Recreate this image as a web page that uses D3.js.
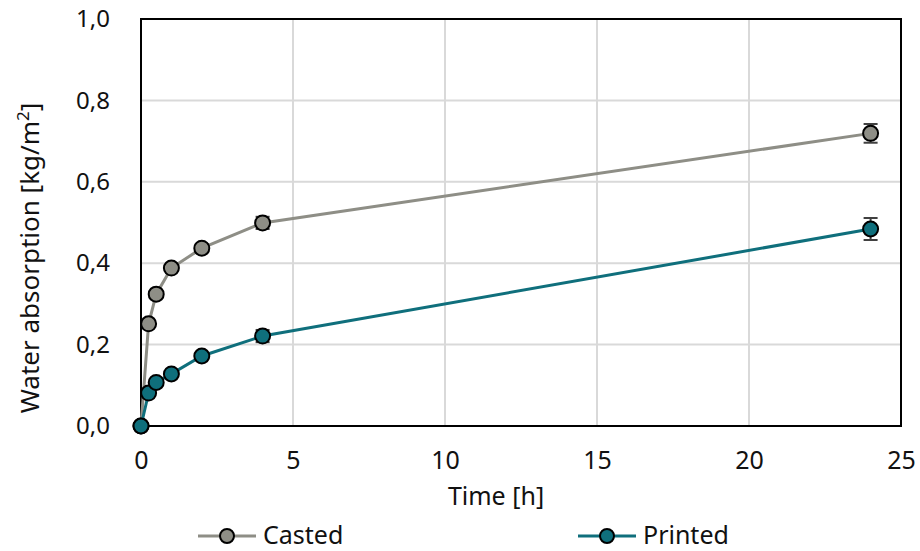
<!DOCTYPE html>
<html>
<head>
<meta charset="utf-8">
<script src="https://cdn.jsdelivr.net/npm/d3@7"></script>
<style>
  body { margin: 0; background: #fff; }
  text { font-family: "Noto Sans", "Open Sans", sans-serif; fill: #111; }
</style>
</head>
<body>
<svg id="chart" width="920" height="551"></svg>
<script>
const times = [0, 0.25, 0.5, 1, 2, 4, 24];
const casted = [0, 0.251, 0.324, 0.388, 0.437, 0.499, 0.719];
const castedErr = [0, 0.005, 0.006, 0.007, 0.01, 0.015, 0.023];
const printed = [0, 0.081, 0.107, 0.128, 0.172, 0.221, 0.484];
const printedErr = [0, 0.004, 0.005, 0.006, 0.008, 0.015, 0.027];
const xTicks = [0, 5, 10, 15, 20, 25];
const yTicks = [0, 0.2, 0.4, 0.6, 0.8, 1.0];
const seriesNames = ["Casted", "Printed"];
const colors = ["#8e8e86", "#0f6f7c"];

const svg = d3.select("#chart");
const x = d3.scaleLinear().domain([0, 25]).range([141, 901]);
const y = d3.scaleLinear().domain([0, 1]).range([426, 19]);
const fmt = v => d3.format(".1f")(v).replace(".", ",");

// gridlines
svg.append("g").selectAll("line.vg").data(xTicks.filter(d => d > 0 && d < 25)).join("line")
  .attr("x1", d => x(d)).attr("x2", d => x(d)).attr("y1", y(0)).attr("y2", y(1))
  .attr("stroke", "#d9d9d9").attr("stroke-width", 2);
svg.append("g").selectAll("line.hg").data(yTicks.filter(d => d > 0 && d < 1)).join("line")
  .attr("x1", x(0)).attr("x2", x(25)).attr("y1", d => y(d)).attr("y2", d => y(d))
  .attr("stroke", "#d9d9d9").attr("stroke-width", 2);

// frame
svg.append("rect").attr("x", x(0)).attr("y", y(1)).attr("width", x(25) - x(0)).attr("height", y(0) - y(1))
  .attr("fill", "none").attr("stroke", "#000").attr("stroke-width", 2);

// axes
const xAxis = svg.append("g").attr("transform", `translate(0,${y(0)})`)
  .call(d3.axisBottom(x).tickValues(xTicks).tickSize(0).tickPadding(25).tickFormat(d3.format("d")));
xAxis.select(".domain").remove();
xAxis.selectAll("text").attr("font-size", 25).attr("fill", "#111").style("font-family", "Noto Sans");

const yAxis = svg.append("g").attr("transform", `translate(${x(0)},0)`)
  .call(d3.axisLeft(y).tickValues(yTicks).tickSize(0).tickPadding(31).tickFormat(fmt));
yAxis.select(".domain").remove();
yAxis.selectAll("text").attr("font-size", 24).attr("fill", "#111").style("font-family", "Noto Sans");

// axis titles
svg.append("text").attr("x", 496).attr("y", 505).attr("text-anchor", "middle")
  .attr("font-size", 25).text("Time [h]");
const yt = svg.append("text").attr("transform", "translate(39,258) rotate(-90)")
  .attr("text-anchor", "middle").attr("font-size", 26);
yt.append("tspan").text("Water absorption [kg/m");
yt.append("tspan").attr("font-size", 17).attr("dy", -10).text("2");
yt.append("tspan").attr("dy", 10).text("]");

const data = [casted, printed];
const errs = [castedErr, printedErr];
const line = d3.line().x(d => x(d[0])).y(d => y(d[1]));

data.forEach((vals, i) => {
  const pts = times.map((t, j) => [t, vals[j], errs[i][j]]);
  const g = svg.append("g");
  g.append("path").datum(pts).attr("d", line).attr("fill", "none")
    .attr("stroke", colors[i]).attr("stroke-width", 3);
  // error bars
  const eb = g.selectAll("g.eb").data(pts.filter(p => p[2] > 0)).join("g");
  eb.append("line").attr("x1", d => x(d[0])).attr("x2", d => x(d[0]))
    .attr("y1", d => y(d[1] - d[2])).attr("y2", d => y(d[1] + d[2]))
    .attr("stroke", "#404040").attr("stroke-width", 2);
  [-1, 1].forEach(s => {
    eb.append("line").attr("x1", d => x(d[0]) - 7).attr("x2", d => x(d[0]) + 7)
      .attr("y1", d => y(d[1] + s * d[2])).attr("y2", d => y(d[1] + s * d[2]))
      .attr("stroke", "#404040").attr("stroke-width", 2);
  });
  g.selectAll("circle").data(pts).join("circle")
    .attr("cx", d => x(d[0])).attr("cy", d => y(d[1])).attr("r", 7.5)
    .attr("fill", colors[i]).attr("stroke", "#000").attr("stroke-width", 2);
});

// legend
const legX = [198, 578];
seriesNames.forEach((name, i) => {
  const g = svg.append("g").attr("transform", `translate(${legX[i]},536)`);
  g.append("line").attr("x1", 0).attr("x2", 58).attr("y1", 0).attr("y2", 0)
    .attr("stroke", colors[i]).attr("stroke-width", 3);
  g.append("circle").attr("cx", 29).attr("cy", 0).attr("r", 7)
    .attr("fill", colors[i]).attr("stroke", "#000").attr("stroke-width", 2);
  g.append("text").attr("x", 65).attr("y", 8).attr("font-size", 25).text(name);
});
</script>
</body>
</html>
